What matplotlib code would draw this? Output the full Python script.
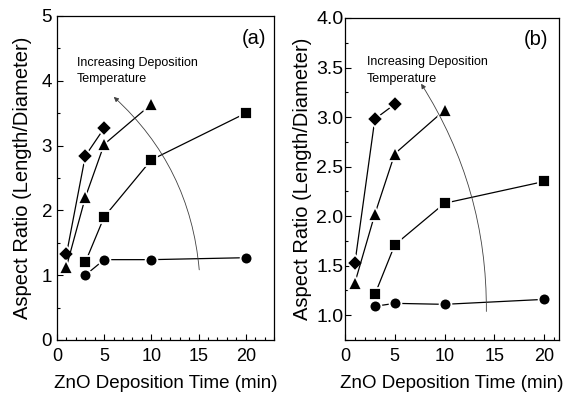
import matplotlib
matplotlib.use("Agg")
import matplotlib.pyplot as plt
from matplotlib.ticker import MultipleLocator

plt.rcParams['font.family'] = ['Liberation Sans', 'DejaVu Sans']

# panel (a)
a_dia_x = [1, 3, 5]
a_dia_y = [1.32, 2.84, 3.27]
a_tri_x = [1, 3, 5, 10]
a_tri_y = [1.13, 2.20, 3.02, 3.64]
a_sq_x = [3, 5, 10, 20]
a_sq_y = [1.20, 1.90, 2.78, 3.50]
a_cir_x = [3, 5, 10, 20]
a_cir_y = [1.00, 1.24, 1.24, 1.27]

# panel (b)
b_dia_x = [1, 3, 5]
b_dia_y = [1.53, 2.98, 3.13]
b_tri_x = [1, 3, 5, 10]
b_tri_y = [1.33, 2.02, 2.63, 3.07]
b_sq_x = [3, 5, 10, 20]
b_sq_y = [1.21, 1.71, 2.13, 2.35]
b_cir_x = [3, 5, 10, 20]
b_cir_y = [1.09, 1.12, 1.11, 1.16]

note = 'Increasing Deposition\nTemperature'
xlab = 'ZnO Deposition Time (min)'
ylab = 'Aspect Ratio (Length/Diameter)'

fig = plt.figure(figsize=(5.64, 3.94), dpi=100)
ax1 = fig.add_axes([57 / 564, 54 / 394, 217 / 564, 324 / 394])
ax2 = fig.add_axes([345 / 564, 54 / 394, 214 / 564, 322 / 394])

mk = dict(color='black', lw=0.9, markeredgecolor='white', markeredgewidth=1.3)


def draw_series(ax, dia, tri, sq, cir):
    ax.plot(*dia, marker='D', markersize=8.5, **mk)
    ax.plot(*tri, marker='^', markersize=10, **mk)
    ax.plot(*sq, marker='s', markersize=8.5, **mk)
    ax.plot(*cir, marker='o', markersize=8.5, **mk)


def style_axes(ax, ypad):
    ax.xaxis.set_major_locator(MultipleLocator(5))
    ax.xaxis.set_minor_locator(MultipleLocator(1))
    ax.tick_params(which='both', direction='in', top=False, right=False,
                   width=0.8)
    ax.tick_params(which='major', length=4)
    ax.tick_params(which='minor', length=2.5)
    ax.tick_params(axis='x', labelsize=13, pad=6)
    ax.tick_params(axis='y', pad=ypad)
    for s in ax.spines.values():
        s.set_linewidth(0.9)
    ax.set_xlabel(xlab, fontsize=13.5)
    ax.xaxis.set_label_coords(0.5, -0.108)


# ── (a) ──
draw_series(ax1, (a_dia_x, a_dia_y), (a_tri_x, a_tri_y),
            (a_sq_x, a_sq_y), (a_cir_x, a_cir_y))
ax1.set_xlim(0, 23)
ax1.set_ylim(0, 5)
ax1.yaxis.set_major_locator(MultipleLocator(1))
ax1.yaxis.set_minor_locator(MultipleLocator(0.5))
style_axes(ax1, 3.5)
ax1.tick_params(axis='y', labelsize=13.5)
ax1.set_ylabel(ylab, fontsize=14.5)
ax1.yaxis.set_label_coords(-0.115, 0.5)
ax1.text(20.9, 4.65, '(a)', fontsize=14.5, ha='center', va='center')
ax1.text(2.1, 4.15, note, fontsize=9, ha='left', va='center', linespacing=1.45)
ax1.annotate('', xy=(5.8, 3.78), xytext=(15.1, 1.04),
             arrowprops=dict(arrowstyle='-|>', color='0.25', lw=0.6,
                             mutation_scale=7,
                             connectionstyle='arc3,rad=0.2'))

# ── (b) ──
draw_series(ax2, (b_dia_x, b_dia_y), (b_tri_x, b_tri_y),
            (b_sq_x, b_sq_y), (b_cir_x, b_cir_y))
ax2.set_xlim(0, 21.5)
ax2.set_ylim(0.75, 4.0)
ax2.yaxis.set_major_locator(MultipleLocator(0.5))
ax2.yaxis.set_minor_locator(MultipleLocator(0.25))
ax2.yaxis.set_major_formatter(matplotlib.ticker.FormatStrFormatter('%.1f'))
style_axes(ax2, 1.0)
ax2.tick_params(axis='y', labelsize=14)
ax2.set_ylabel(ylab, fontsize=14.5)
ax2.yaxis.set_label_coords(-0.155, 0.5)
ax2.text(19.2, 3.78, '(b)', fontsize=14.5, ha='center', va='center')
ax2.text(2.2, 3.47, note, fontsize=9, ha='left', va='center', linespacing=1.45)
ax2.annotate('', xy=(7.5, 3.36), xytext=(14.2, 1.01),
             arrowprops=dict(arrowstyle='-|>', color='0.25', lw=0.6,
                             mutation_scale=7,
                             connectionstyle='arc3,rad=0.15'))

fig.savefig('out.png', dpi=100)
